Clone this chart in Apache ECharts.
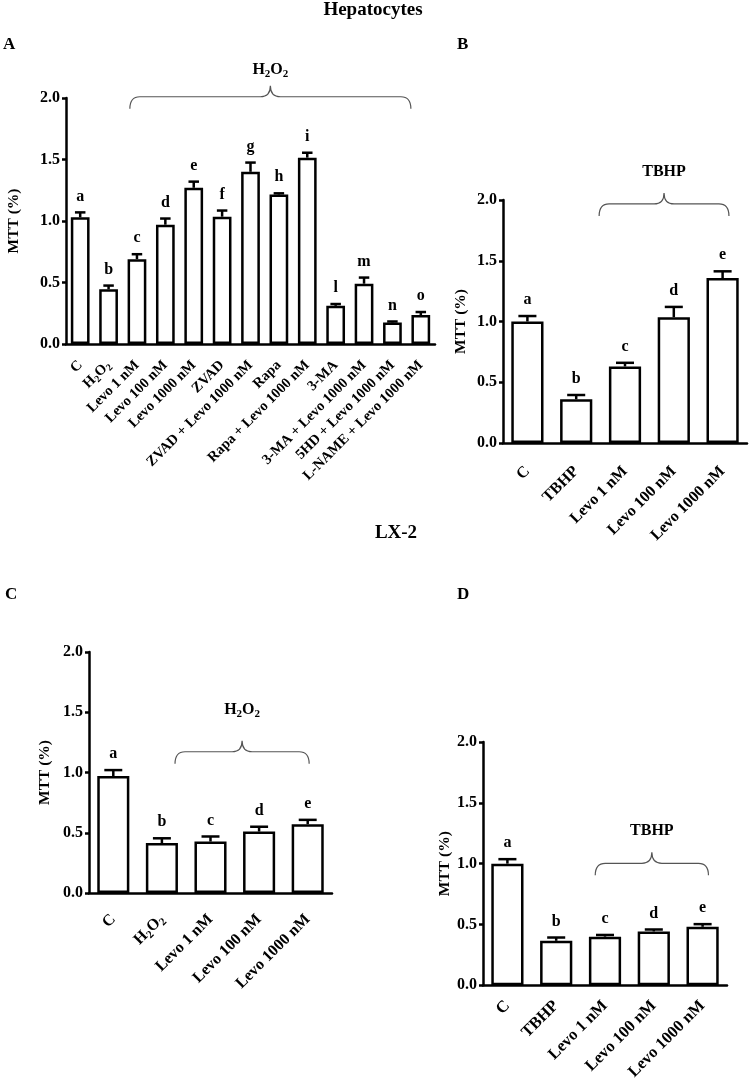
<!DOCTYPE html>
<html>
<head>
<meta charset="utf-8">
<script src="https://cdn.jsdelivr.net/npm/echarts@6/dist/echarts.min.js"></script>
<style>
html,body{margin:0;padding:0;background:#fff;}
#chart{width:750px;height:1084px;}
</style>
</head>
<body>
<div id="chart"></div>
<script>
// ---------- DATA ----------
const catsA = ['C', 'H2O2', 'Levo 1 nM', 'Levo 100 nM', 'Levo 1000 nM', 'ZVAD', 'ZVAD + Levo 1000 nM', 'Rapa', 'Rapa + Levo 1000 nM', '3-MA', '3-MA + Levo 1000 nM', '5HD + Levo 1000 nM', 'L-NAME + Levo 1000 nM'];
const valsA = [1.03, 0.445, 0.69, 0.97, 1.27, 1.035, 1.40, 1.215, 1.515, 0.31, 0.49, 0.175, 0.235];
const errA = [0.04, 0.03, 0.04, 0.05, 0.05, 0.05, 0.075, 0.01, 0.04, 0.015, 0.05, 0.008, 0.025];
const lettersA = ['a', 'b', 'c', 'd', 'e', 'f', 'g', 'h', 'i', 'l', 'm', 'n', 'o'];

const catsB = ['C', 'TBHP', 'Levo 1 nM', 'Levo 100 nM', 'Levo 1000 nM'];
const valsB = [1.00, 0.36, 0.63, 1.035, 1.358];
const errB = [0.045, 0.035, 0.03, 0.085, 0.055];
const lettersB = ['a', 'b', 'c', 'd', 'e'];

const catsC = ['C', 'H2O2', 'Levo 1 nM', 'Levo 100 nM', 'Levo 1000 nM'];
const valsC = [0.97, 0.414, 0.427, 0.51, 0.571];
const errC = [0.05, 0.04, 0.042, 0.04, 0.036];
const lettersC = ['a', 'b', 'c', 'd', 'e'];

const catsD = ['C', 'TBHP', 'Levo 1 nM', 'Levo 100 nM', 'Levo 1000 nM'];
const valsD = [1.00, 0.366, 0.40, 0.443, 0.481];
const errD = [0.037, 0.027, 0.014, 0.016, 0.022];
const lettersD = ['a', 'b', 'c', 'd', 'e'];

const yTicks = [0, 0.5, 1.0, 1.5, 2.0];
const braceLabels = ['H2O2', 'TBHP', 'H2O2', 'TBHP'];
// brace spans (category index positions) and heights (axis values)
const braceFrom = [1.75, 1.47, 1.27, 1.8];
const braceTo = [11.65, 4.13, 4.03, 4.12];
const braceLine = [2.01, 1.968, 1.172, 1.003];
const braceText = [2.23, 2.23, 1.518, 1.27];

// ---------- STYLE ----------
const FONT = "'Liberation Serif', 'Times New Roman', serif";
const grids = [
  {left: 66, top: 98, width: 369, height: 246},
  {left: 503, top: 200, width: 244, height: 243},
  {left: 89, top: 652, width: 243, height: 241},
  {left: 483, top: 742, width: 244, height: 244}
];
const nameGaps = [44, 34, 36, 29];
const labelMargins = [19, 26, 24, 18];
const labelSizes = [14.5, 16, 16, 16.5];
const panels = [
  {cats: catsA, vals: valsA, err: errA, letters: lettersA},
  {cats: catsB, vals: valsB, err: errB, letters: lettersB},
  {cats: catsC, vals: valsC, err: errC, letters: lettersC},
  {cats: catsD, vals: valsD, err: errD, letters: lettersD}
];
const BAR_W = 0.66;
function subRich(size) {
  return {s: {fontSize: size, fontWeight: 'bold', fontFamily: FONT, color: '#000', verticalAlign: 'bottom', lineHeight: size}};
}
function richName(v) {
  return v === 'H2O2' ? 'H{s|2}O{s|2}' : v;
}

const xAxes = [], yAxes = [], series = [];
panels.forEach((p, k) => {
  xAxes.push({
    type: 'category', gridIndex: k, data: p.cats,
    axisLine: {lineStyle: {color: '#000', width: 2.5}},
    axisTick: {show: false},
    axisLabel: {
      rotate: 45, interval: 0, margin: labelMargins[k], color: '#000',
      fontFamily: FONT, fontWeight: 'bold', fontSize: labelSizes[k], lineHeight: labelSizes[k] + 4,
      formatter: richName, rich: subRich(Math.round(labelSizes[k] * 0.68))
    }
  });
  yAxes.push({
    type: 'value', gridIndex: k, min: 0, max: 2, interval: 0.5,
    name: 'MTT (%)', nameLocation: 'middle', nameGap: nameGaps[k],
    nameTextStyle: {fontFamily: FONT, fontWeight: 'bold', fontSize: 15.5, color: '#000'},
    axisLine: {show: true, lineStyle: {color: '#000', width: 2.5}},
    axisTick: {show: true, length: 4, lineStyle: {color: '#000', width: 2.5}},
    axisLabel: {margin: 6, color: '#000', fontFamily: FONT, fontWeight: 'bold', fontSize: 16,
      formatter: v => v.toFixed(1)},
    splitLine: {show: false}
  });
  series.push({
    type: 'bar', xAxisIndex: k, yAxisIndex: k, data: p.vals,
    barWidth: (BAR_W * 100) + '%',
    itemStyle: {color: '#fff', borderColor: '#000', borderWidth: 2.5},
    silent: true, animation: false
  });
  series.push({
    type: 'custom', xAxisIndex: k, yAxisIndex: k,
    data: p.vals.map((v, i) => [i, v, p.err[i]]),
    encode: {x: 0, y: 1},
    animation: false, silent: true, z: 5,
    renderItem: function (params, api) {
      const i = api.value(0), v = api.value(1), e = api.value(2);
      const base = api.coord([i, v]);
      const top = api.coord([i, v + e]);
      const band = api.size([1, 0])[0];
      const cap = band * BAR_W * 0.28;
      const st = {stroke: '#000', lineWidth: 2.5};
      return {
        type: 'group', children: [
          {type: 'line', shape: {x1: base[0], y1: base[1], x2: top[0], y2: top[1]}, style: st},
          {type: 'line', shape: {x1: top[0] - cap, y1: top[1], x2: top[0] + cap, y2: top[1]}, style: st},
          {type: 'text', x: top[0], y: top[1] - 16, style: {
            text: p.letters[i], fill: '#000', font: 'bold 16px ' + FONT,
            align: 'center', verticalAlign: 'middle'}}
        ]
      };
    }
  });
  // brace annotation
  series.push({
    type: 'custom', xAxisIndex: k, yAxisIndex: k,
    data: [[0, braceLine[k]]],
    encode: {x: 0, y: 1},
    animation: false, silent: true, z: 6,
    renderItem: function (params, api) {
      const c0 = api.coord([0, braceLine[k]]);
      const band = api.size([1, 0])[0];
      const x0 = c0[0] + braceFrom[k] * band;
      const x1 = c0[0] + braceTo[k] * band;
      const yL = c0[1];
      const yP = yL - 11, yE = yL + 12;
      const mid = (x0 + x1) / 2;
      const r = 10;
      const d = `M${x0},${yE} Q${x0},${yL} ${x0 + r},${yL} L${mid - r},${yL} Q${mid},${yL} ${mid},${yP} ` +
        `Q${mid},${yL} ${mid + r},${yL} L${x1 - r},${yL} Q${x1},${yL} ${x1},${yE}`;
      const ty = api.coord([0, braceText[k]])[1];
      return {
        type: 'group', children: [
          {type: 'path', shape: {pathData: d}, style: {stroke: '#555', lineWidth: 1.2, fill: 'none'}},
          {type: 'text', x: mid, y: ty, style: {
            text: richName(braceLabels[k]), fill: '#000', fontFamily: FONT, fontWeight: 'bold', fontSize: 16,
            lineHeight: 20, align: 'center', verticalAlign: 'middle', rich: subRich(11)}}
        ]
      };
    }
  });
});

const chart = echarts.init(document.getElementById('chart'), null, {renderer: 'canvas'});
chart.setOption({
  backgroundColor: '#fff',
  animation: false,
  grid: grids,
  xAxis: xAxes,
  yAxis: yAxes,
  series: series,
  graphic: [
    {type: 'text', x: 373, y: 10, style: {text: 'Hepatocytes', fill: '#000', font: 'bold 19px ' + FONT, align: 'center', verticalAlign: 'middle'}},
    {type: 'text', x: 3, y: 45, style: {text: 'A', fill: '#000', font: 'bold 17px ' + FONT, align: 'left', verticalAlign: 'middle'}},
    {type: 'text', x: 457, y: 45, style: {text: 'B', fill: '#000', font: 'bold 17px ' + FONT, align: 'left', verticalAlign: 'middle'}},
    {type: 'text', x: 396, y: 533, style: {text: 'LX-2', fill: '#000', font: 'bold 19px ' + FONT, align: 'center', verticalAlign: 'middle'}},
    {type: 'text', x: 5, y: 595, style: {text: 'C', fill: '#000', font: 'bold 17px ' + FONT, align: 'left', verticalAlign: 'middle'}},
    {type: 'text', x: 457, y: 595, style: {text: 'D', fill: '#000', font: 'bold 17px ' + FONT, align: 'left', verticalAlign: 'middle'}}
  ]
});
</script>
</body>
</html>
